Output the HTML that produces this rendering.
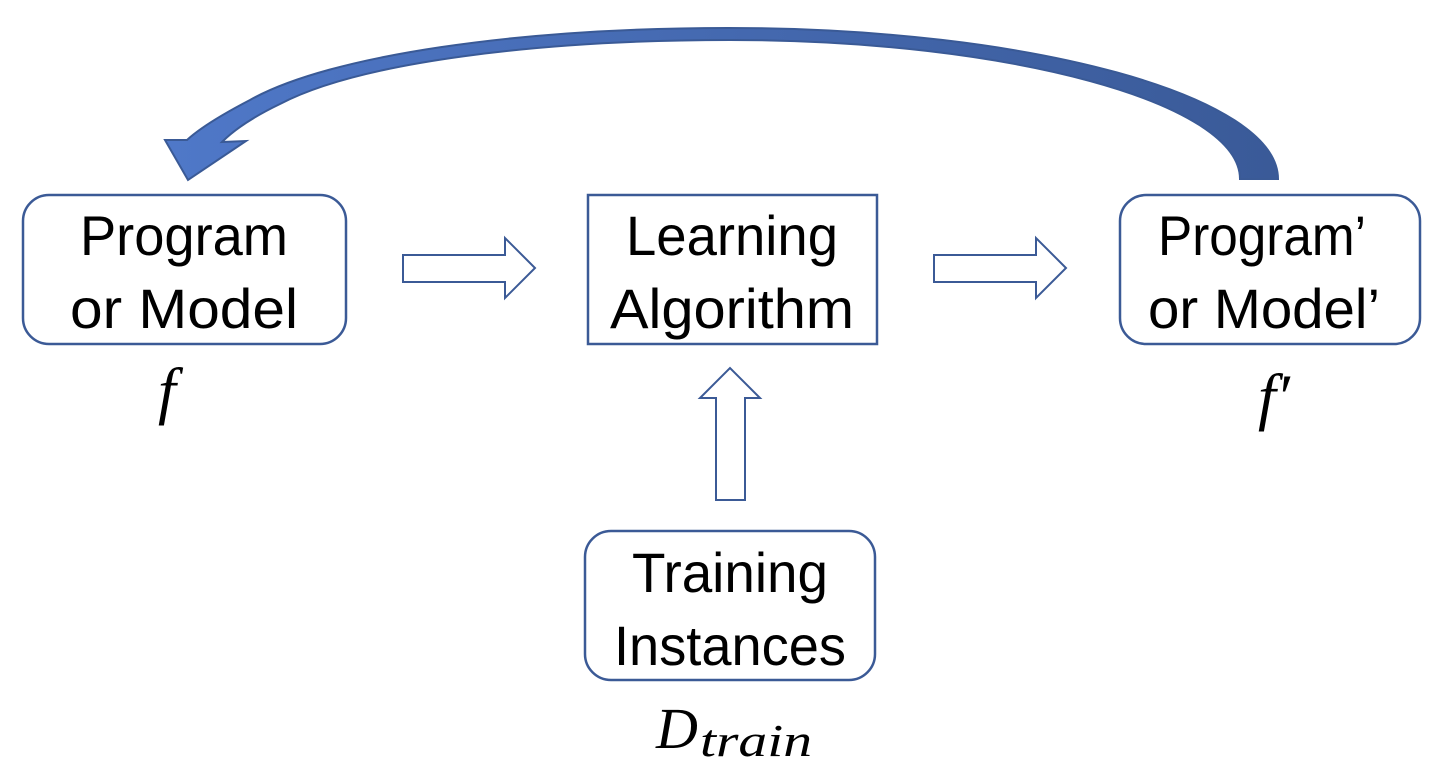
<!DOCTYPE html>
<html><head><meta charset="utf-8"><style>
html,body{margin:0;padding:0;background:#fff;}
svg{display:block;}
</style></head><body>
<svg width="1438" height="782" viewBox="0 0 1438 782" xmlns="http://www.w3.org/2000/svg">
<defs>
<linearGradient id="g" x1="0" y1="0" x2="1" y2="0">
<stop offset="0" stop-color="#4f78c8"/><stop offset="1" stop-color="#3a5a98"/>
</linearGradient>
</defs>
<path d="M1278,179 C1278,96 1031,28 728,28 C520,28 330,55 250,100 C225,113 200,128 187,140 L165,140 L188,180 L246,141 L222,142 C236,128 255,116 280,104 C360,62 540,40 730,40 C1010,40 1240,103 1240,179 Z" fill="url(#g)" stroke="#3a5a96" stroke-width="2" stroke-linejoin="miter"/>
<g fill="#fff" stroke="#3b5a96" stroke-width="2.5">
<rect x="23" y="195" width="323" height="149" rx="26"/>
<rect x="588" y="195" width="289" height="149"/>
<rect x="1120" y="195" width="300" height="149" rx="26"/>
<rect x="585" y="531" width="290" height="149" rx="26"/>
<path d="M403,255 L505,255 L505,238 L535,268 L505,298 L505,282 L403,282 Z" stroke-width="2"/>
<path d="M934,255 L1036,255 L1036,238 L1066,268 L1036,298 L1036,282 L934,282 Z" stroke-width="2"/>
<path d="M716,500 L716,398 L700,398 L730,368 L760,398 L745,398 L745,500 Z" stroke-width="2"/>
</g>
<g font-family="Liberation Sans, sans-serif" font-size="56" fill="#000" text-anchor="middle">
<text x="184" y="255" textLength="208" lengthAdjust="spacingAndGlyphs">Program</text>
<text x="184" y="328" textLength="228" lengthAdjust="spacingAndGlyphs">or Model</text>
<text x="732" y="255" textLength="212" lengthAdjust="spacingAndGlyphs">Learning</text>
<text x="732" y="328" textLength="244" lengthAdjust="spacingAndGlyphs">Algorithm</text>
<text x="1262" y="255" textLength="208" lengthAdjust="spacingAndGlyphs">Program’</text>
<text x="1264" y="328" textLength="232" lengthAdjust="spacingAndGlyphs">or Model’</text>
<text x="730" y="592" textLength="196" lengthAdjust="spacingAndGlyphs">Training</text>
<text x="730" y="665" textLength="232" lengthAdjust="spacingAndGlyphs">Instances</text>
</g>
<g font-family="Liberation Serif, serif" font-style="italic" fill="#000">
<text x="158" y="412" font-size="64">f</text>
<text x="1258" y="418" font-size="64">f′</text>
<text x="656" y="748" font-size="58">D</text>
<text x="700" y="756" font-size="46" textLength="112" lengthAdjust="spacingAndGlyphs">train</text>
</g>
</svg>
</body></html>
